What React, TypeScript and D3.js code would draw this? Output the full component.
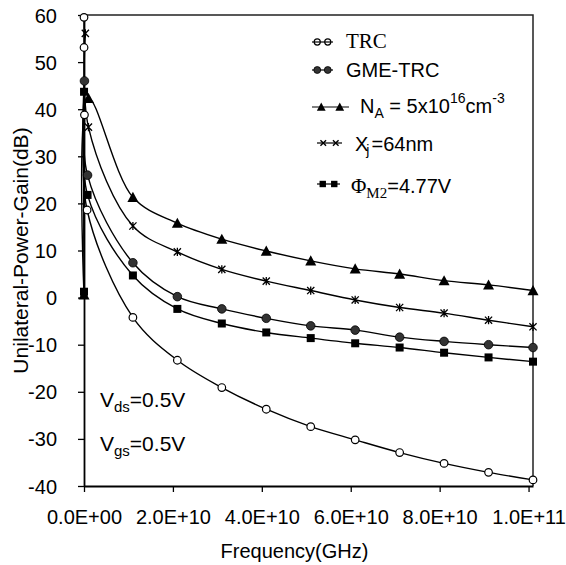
import React, { useRef, useEffect } from "react";
import * as d3 from "d3";

// frequency (Hz) and gain (dB)
const trcX = [1e6, 1e7, 1e8, 7e8, 1.1e10, 2.1e10, 3.1e10, 4.1e10, 5.1e10, 6.1e10, 7.1e10, 8.1e10, 9.1e10, 1.01e11];
const trcY = [59.5, 53.1, 38.8, 18.6, -4.2, -13.3, -19.1, -23.7, -27.4, -30.2, -32.9, -35.2, -37.1, -38.7];

const gmeX = [1e8, 8e8, 1.1e10, 2.1e10, 3.1e10, 4.1e10, 5.1e10, 6.1e10, 7.1e10, 8.1e10, 9.1e10, 1.01e11];
const gmeY = [46.0, 26.0, 7.4, 0.2, -2.4, -4.4, -6.0, -6.9, -8.4, -9.3, -10.0, -10.6];

const naX = [1e6, 1e9, 1.1e10, 2.1e10, 3.1e10, 4.1e10, 5.1e10, 6.1e10, 7.1e10, 8.1e10, 9.1e10, 1.01e11];
const naY = [0.6, 42.3, 21.3, 15.8, 12.4, 9.9, 7.8, 6.1, 5.0, 3.6, 2.7, 1.5];

const xjX = [3e8, 1e9, 1.1e10, 2.1e10, 3.1e10, 4.1e10, 5.1e10, 6.1e10, 7.1e10, 8.1e10, 9.1e10, 1.01e11];
const xjY = [56.1, 36.2, 15.2, 9.7, 6.0, 3.5, 1.5, -0.5, -2.1, -3.3, -4.8, -6.2];

const phiX = [1e6, 1e7, 8e8, 1.1e10, 2.1e10, 3.1e10, 4.1e10, 5.1e10, 6.1e10, 7.1e10, 8.1e10, 9.1e10, 1.01e11];
const phiY = [1.25, 43.7, 21.8, 4.7, -2.4, -5.5, -7.4, -8.6, -9.7, -10.6, -11.7, -12.7, -13.6];

const xTicks = [0, 2e10, 4e10, 6e10, 8e10, 1e11];
const yTicks = [-40, -30, -20, -10, 0, 10, 20, 30, 40, 50, 60];

const seriesList = [
	{ key: "trc", xs: trcX, ys: trcY, marker: "openCircle" },
	{ key: "gme", xs: gmeX, ys: gmeY, marker: "circle" },
	{ key: "na", xs: naX, ys: naY, marker: "triangle" },
	{ key: "xj", xs: xjX, ys: xjY, marker: "star" },
	{ key: "phi", xs: phiX, ys: phiY, marker: "square" },
];

const SANS = "Arial, 'Liberation Sans', sans-serif";
const SERIF = "'Times New Roman', 'Liberation Serif', serif";

function sciFmt(v: number) {
	if (v === 0) return "0.0E+00";
	const e = Math.floor(Math.log10(v));
	const m = v / Math.pow(10, e);
	return `${m.toFixed(1)}E+${String(e).padStart(2, "0")}`;
}

function drawMarker(g: any, type: string, x: number, y: number, small = false) {
	const k = small ? 0.8 : 1;
	if (type === "openCircle") {
		g.append("circle").attr("cx", x).attr("cy", y).attr("r", 3.8 * k)
			.attr("fill", small ? "none" : "white").attr("stroke", "black").attr("stroke-width", 1.2);
	} else if (type === "circle") {
		g.append("circle").attr("cx", x).attr("cy", y).attr("r", 4.3 * k)
			.attr("fill", "#333").attr("stroke", "black").attr("stroke-width", 0.8);
	} else if (type === "triangle") {
		const s = 5.5 * k;
		g.append("path")
			.attr("d", `M${x},${y - s}L${x + s},${y + s * 0.85}L${x - s},${y + s * 0.85}Z`)
			.attr("fill", "black");
	} else if (type === "square") {
		const s = 4 * k;
		g.append("rect").attr("x", x - s).attr("y", y - s).attr("width", 2 * s).attr("height", 2 * s)
			.attr("fill", "black");
	} else if (type === "star") {
		const s = 3.6 * k;
		g.append("path")
			.attr("d", `M${x - s},${y - s}L${x + s},${y + s}M${x - s},${y + s}L${x + s},${y - s}M${x},${y - s - 0.5}L${x},${y + s + 0.5}`)
			.attr("stroke", "black").attr("stroke-width", 1.3).attr("fill", "none");
	} else if (type === "cross") {
		const s = 3.5 * k;
		g.append("path")
			.attr("d", `M${x - s},${y - s}L${x + s},${y + s}M${x - s},${y + s}L${x + s},${y - s}`)
			.attr("stroke", "black").attr("stroke-width", 1.4).attr("fill", "none");
	}
}

export default function App() {
	const ref = useRef<SVGSVGElement>(null);

	const layout = { width: 566, height: 565, left: 84, right: 533, top: 15, bottom: 486 };

	useEffect(() => {
		const svg = d3.select(ref.current);
		svg.selectAll("*").remove();

		const xScale = d3.scaleLinear().domain([0, 1.01e11]).range([layout.left, layout.right]);
		const yScale = d3.scaleLinear().domain([-40, 60]).range([layout.bottom, layout.top]);

		// frame: top and right edges
		svg.append("path")
			.attr("d", `M${layout.left},${layout.top}H${layout.right}V${layout.bottom}`)
			.attr("fill", "none").attr("stroke", "#222").attr("stroke-width", 1.5);

		const xAxis = svg.append("g")
			.attr("transform", `translate(0, ${layout.bottom})`)
			.call(d3.axisBottom(xScale).tickValues(xTicks).tickSize(6).tickSizeOuter(0).tickFormat((d: any) => sciFmt(+d)));
		xAxis.select(".domain").attr("stroke-width", 1.8);
		xAxis.selectAll(".tick line").attr("stroke-width", 1.3);
		xAxis.selectAll("text").attr("font-family", SANS).attr("font-size", 20).attr("fill", "black")
			.attr("y", 0).attr("dy", 0).attr("transform", "translate(0, 38)");

		const yAxis = svg.append("g")
			.attr("transform", `translate(${layout.left}, 0)`)
			.call(d3.axisLeft(yScale).tickValues(yTicks).tickSize(6).tickSizeOuter(0).tickFormat((d: any) => String(d)));
		yAxis.select(".domain").attr("stroke-width", 1.8);
		yAxis.selectAll(".tick line").attr("stroke-width", 1.3);
		yAxis.selectAll("text").attr("font-family", SANS).attr("font-size", 20).attr("fill", "black")
			.attr("x", -27).attr("dy", "0.35em");

		const line = d3.line<[number, number]>()
			.x(d => xScale(d[0]))
			.y(d => yScale(d[1]))
			.curve(d3.curveCatmullRom.alpha(0.5));

		const plot = svg.append("g");
		for (const s of seriesList) {
			const pts: [number, number][] = s.xs.map((x, i) => [x, s.ys[i]]);
			plot.append("path")
				.attr("d", line(pts))
				.attr("fill", "none").attr("stroke", "black").attr("stroke-width", 1.4);
		}
		for (const s of seriesList) {
			const mg = plot.append("g");
			s.xs.forEach((x, i) => drawMarker(mg, s.marker, xScale(x), yScale(s.ys[i])));
		}

		// legend
		const legend = svg.append("g");
		const legendRows = [
			{ marker: "openCircle", y: 42, x0: 312, x1: 333 },
			{ marker: "circle", y: 70, x0: 312, x1: 333 },
			{ marker: "triangle", y: 107, x0: 312, x1: 349 },
			{ marker: "cross", y: 143, x0: 317, x1: 342 },
			{ marker: "square", y: 184, x0: 317, x1: 340 },
		];
		for (const r of legendRows) {
			legend.append("line").attr("x1", r.x0).attr("x2", r.x1).attr("y1", r.y).attr("y2", r.y)
				.attr("stroke", "black").attr("stroke-width", 1.2);
			const w = r.x1 - r.x0;
			drawMarker(legend, r.marker, r.x0 + w * 0.25, r.y, true);
			drawMarker(legend, r.marker, r.x0 + w * 0.75, r.y, true);
		}

		legend.append("text").attr("x", 346).attr("y", 48).attr("font-family", SERIF).attr("font-size", 21)
			.text("TRC");
		legend.append("text").attr("x", 346).attr("y", 77).attr("font-family", SANS).attr("font-size", 20)
			.text("GME-TRC");

		const na = legend.append("text").attr("x", 360).attr("y", 113).attr("font-family", SANS).attr("font-size", 20);
		na.append("tspan").text("N");
		na.append("tspan").attr("font-size", 14).attr("dy", 5).text("A");
		na.append("tspan").attr("dy", -5).text(" = 5x10");
		na.append("tspan").attr("font-size", 14).attr("dy", -10).text("16");
		na.append("tspan").attr("dy", 10).text("cm");
		na.append("tspan").attr("font-size", 14).attr("dy", -10).text("-3");

		const xj = legend.append("text").attr("x", 355).attr("y", 151).attr("font-family", SANS).attr("font-size", 20);
		xj.append("tspan").text("X");
		xj.append("tspan").attr("font-size", 14).attr("dx", -2).attr("dy", 4).text("j");
		xj.append("tspan").attr("dx", 2).attr("dy", -4).text("=64nm");

		const phi = legend.append("text").attr("x", 351).attr("y", 193).attr("font-size", 20);
		phi.append("tspan").attr("font-family", SERIF).attr("font-size", 21).text("Φ");
		phi.append("tspan").attr("font-family", SERIF).attr("font-size", 15).attr("dy", 5).text("M2");
		phi.append("tspan").attr("font-family", SANS).attr("dy", -5).text("=4.77V");

		// bias annotations
		const vds = svg.append("text").attr("x", 100).attr("y", 407).attr("font-family", SANS).attr("font-size", 21);
		vds.append("tspan").text("V");
		vds.append("tspan").attr("font-size", 15).attr("dy", 5).text("ds");
		vds.append("tspan").attr("dy", -5).text("=0.5V");

		const vgs = svg.append("text").attr("x", 100).attr("y", 451).attr("font-family", SANS).attr("font-size", 21);
		vgs.append("tspan").text("V");
		vgs.append("tspan").attr("font-size", 15).attr("dy", 5).text("gs");
		vgs.append("tspan").attr("dy", -5).text("=0.5V");

		// axis titles
		svg.append("text")
			.attr("x", (layout.left + layout.right) / 2 - 14).attr("y", 558)
			.attr("text-anchor", "middle").attr("font-family", SANS).attr("font-size", 20)
			.text("Frequency(GHz)");

		svg.append("text")
			.attr("transform", `translate(28, ${(layout.top + layout.bottom) / 2}) rotate(-90)`)
			.attr("text-anchor", "middle").attr("font-family", SANS).attr("font-size", 21)
			.text("Unilateral-Power-Gain(dB)");
	}, []);

	return (
		<svg ref={ref} width={layout.width} height={layout.height}
			style={{ position: "absolute", left: 0, top: 0, background: "white" }} />
	);
}
